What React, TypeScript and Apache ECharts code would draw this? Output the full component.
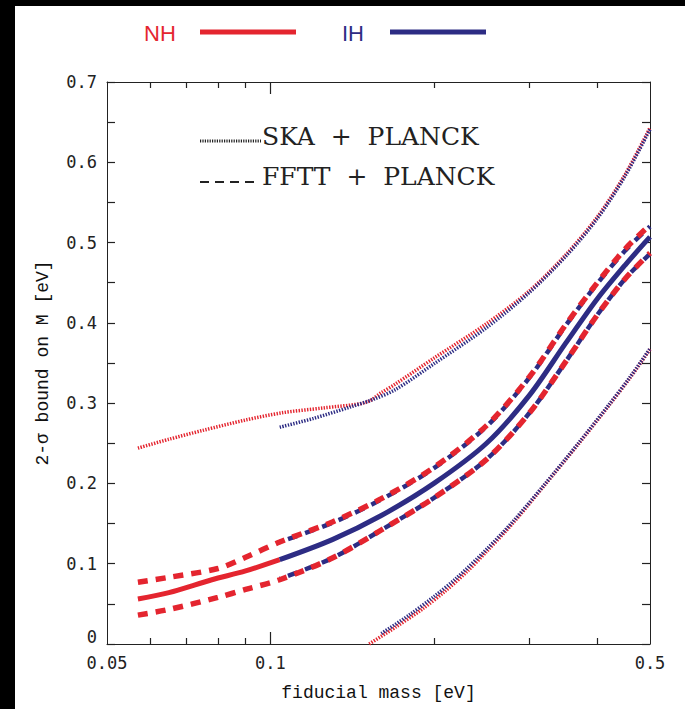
import React, { useEffect, useRef } from 'react';
import * as echarts from 'echarts';

const RED = '#e4252f';
const BLUE = '#2d2c84';

// x-axis ticks (fiducial mass, eV), log scale
const xLabelValues = [0.05, 0.1, 0.5];
const xLabelTexts = ['0.05', '0.1', '0.5'];
const xMajorTicks = [0.1];
const xMinorTicks = [0.06, 0.07, 0.08, 0.09, 0.2, 0.3, 0.4];

// SKA + PLANCK (dotted) upper bounds
const skaUpperNHx = [0.057, 0.065, 0.075, 0.09, 0.105, 0.125, 0.15, 0.16, 0.17, 0.2, 0.25, 0.3, 0.35, 0.4, 0.45, 0.5];
const skaUpperNHy = [0.244, 0.255, 0.266, 0.279, 0.288, 0.294, 0.301, 0.313, 0.324, 0.356, 0.399, 0.44, 0.485, 0.532, 0.585, 0.643];
const skaUpperIHx = [0.104, 0.12, 0.14, 0.155, 0.17, 0.2, 0.25, 0.3, 0.35, 0.4, 0.45, 0.5];
const skaUpperIHy = [0.27, 0.281, 0.295, 0.305, 0.317, 0.349, 0.394, 0.438, 0.483, 0.53, 0.583, 0.641];

// SKA + PLANCK (dotted) lower bounds
const skaLowerNHx = [0.152, 0.17, 0.19, 0.21, 0.23, 0.25, 0.28, 0.32, 0.37, 0.42, 0.46, 0.5];
const skaLowerNHy = [0.0, 0.021, 0.043, 0.066, 0.09, 0.115, 0.151, 0.198, 0.25, 0.297, 0.332, 0.367];
const skaLowerIHx = [0.16, 0.18, 0.2, 0.22, 0.25, 0.28, 0.32, 0.37, 0.42, 0.46, 0.5];
const skaLowerIHy = [0.013, 0.036, 0.059, 0.082, 0.118, 0.153, 0.199, 0.251, 0.298, 0.333, 0.368];

// FFTT + PLANCK central (solid) values
const centerNHx = [0.057, 0.065, 0.078, 0.09, 0.104];
const centerNHy = [0.056, 0.064, 0.08, 0.091, 0.105];
const centerIHx = [0.104, 0.13, 0.16, 0.2, 0.25, 0.3, 0.35, 0.4, 0.45, 0.5];
const centerIHy = [0.105, 0.13, 0.16, 0.2, 0.25, 0.31, 0.375, 0.43, 0.472, 0.507];

// FFTT + PLANCK (dashed) upper / lower bounds
const ffttNHx = [0.057, 0.065, 0.08, 0.09, 0.104, 0.13, 0.16, 0.2, 0.25, 0.3, 0.35, 0.4, 0.45, 0.5];
const ffttUpperNHy = [0.077, 0.083, 0.094, 0.108, 0.127, 0.152, 0.181, 0.22, 0.272, 0.333, 0.398, 0.45, 0.492, 0.522];
const ffttLowerNHy = [0.036, 0.043, 0.058, 0.068, 0.08, 0.107, 0.142, 0.182, 0.23, 0.288, 0.352, 0.41, 0.455, 0.487];
const ffttIHx = [0.104, 0.13, 0.16, 0.2, 0.25, 0.3, 0.35, 0.4, 0.45, 0.5];
const ffttUpperIHy = [0.127, 0.151, 0.18, 0.219, 0.271, 0.332, 0.397, 0.449, 0.49, 0.52];
const ffttLowerIHy = [0.081, 0.107, 0.142, 0.182, 0.23, 0.288, 0.352, 0.41, 0.455, 0.486];

const pairs = (xs: number[], ys: number[]) => xs.map((x, i) => [x, ys[i]]);

const dotted = (name: string, xs: number[], ys: number[], color: string) => ({
  name,
  type: 'line',
  data: pairs(xs, ys),
  smooth: 0.3,
  showSymbol: false,
  symbol: 'none',
  lineStyle: { color, width: 3.5, type: [1.4, 1.4] },
});

const dashed = (name: string, xs: number[], ys: number[], color: string, width: number, offset: number) => ({
  name,
  type: 'line',
  data: pairs(xs, ys),
  smooth: 0.3,
  showSymbol: false,
  symbol: 'none',
  lineStyle: { color, width, type: [10, 8], dashOffset: offset },
});

const solid = (name: string, xs: number[], ys: number[], color: string) => ({
  name,
  type: 'line',
  data: pairs(xs, ys),
  smooth: 0.3,
  showSymbol: false,
  symbol: 'none',
  lineStyle: { color, width: 5 },
});

const tickFont = 'DejaVu Sans Mono';
const titleFont = 'Liberation Mono';

const logAxis = (position: 'top' | 'bottom', ticks: number[], len: number, main: boolean) => ({
  type: 'log',
  logBase: 10,
  min: 0.05,
  max: 0.5,
  position,
  gridIndex: 0,
  axisLine: { show: main, lineStyle: { color: '#222', width: 1 } },
  axisTick: { show: true, inside: true, length: len, customValues: ticks, lineStyle: { color: '#222', width: 1.2 } },
  minorTick: { show: false },
  splitLine: { show: false },
  axisLabel: main && position === 'bottom'
    ? {
        show: true,
        customValues: xLabelValues,
        formatter: (v: number) => {
          let best = 0;
          xLabelValues.forEach((lv, i) => { if (Math.abs(lv - v) < Math.abs(xLabelValues[best] - v)) best = i; });
          return xLabelTexts[best];
        },
        fontFamily: tickFont,
        fontSize: 17,
        color: '#222',
        margin: 10,
      }
    : { show: false },
  name: main && position === 'bottom' ? 'fiducial mass [eV]' : '',
  nameLocation: 'middle',
  nameGap: 40,
  nameTextStyle: { fontFamily: titleFont, fontSize: 18, color: '#111' },
});

const valAxis = (position: 'left' | 'right') => ({
  type: 'value',
  min: 0,
  max: 0.7,
  interval: 0.1,
  position,
  axisLine: { show: true, lineStyle: { color: '#222', width: 1 } },
  axisTick: { show: true, inside: true, length: 8, lineStyle: { color: '#222', width: 1.2 } },
  minorTick: { show: true, splitNumber: 2, length: 8, lineStyle: { color: '#222', width: 1.2 } },
  splitLine: { show: false },
  minorSplitLine: { show: false },
  axisLabel: position === 'left'
    ? {
        show: true,
        fontFamily: tickFont,
        fontSize: 17,
        color: '#222',
        margin: 10,
        formatter: (v: number) => (v === 0 ? '{z|0}' : v.toFixed(1)),
        rich: { z: { fontFamily: tickFont, fontSize: 17, color: '#222', padding: [0, 0, 14, 0] } },
      }
    : { show: false },
  name: position === 'left' ? '2-σ bound on M [eV]' : '',
  nameLocation: 'middle',
  nameRotate: 90,
  nameGap: 55,
  nameTextStyle: { fontFamily: titleFont, fontSize: 18, color: '#111' },
});

const NB = '\u00a0';

export default function App() {
  const ref = useRef<HTMLDivElement>(null);
  useEffect(() => {
    if (!ref.current) return;
    const chart = echarts.init(ref.current, undefined, { renderer: 'svg' });
    chart.setOption({
      animation: false,
      backgroundColor: '#ffffff',
      grid: { left: 107, right: 35, top: 82, bottom: 65, containLabel: false, outerBoundsMode: 'none' },
      xAxis: [
        logAxis('bottom', xMajorTicks, 12, true),
        logAxis('bottom', xMinorTicks, 6, false),
        logAxis('top', xMajorTicks, 12, true),
        logAxis('top', xMinorTicks, 6, false),
      ],
      yAxis: [valAxis('left'), valAxis('right')],
      series: [
        dotted('NH SKA upper', skaUpperNHx, skaUpperNHy, RED),
        dotted('IH SKA upper', skaUpperIHx, skaUpperIHy, BLUE),
        dotted('NH SKA lower', skaLowerNHx, skaLowerNHy, RED),
        dotted('IH SKA lower', skaLowerIHx, skaLowerIHy, BLUE),
        dashed('IH FFTT upper', ffttIHx, ffttUpperIHy, BLUE, 4.5, 9),
        dashed('IH FFTT lower', ffttIHx, ffttLowerIHy, BLUE, 4.5, 9),
        dashed('NH FFTT upper', ffttNHx, ffttUpperNHy, RED, 5.5, 0),
        dashed('NH FFTT lower', ffttNHx, ffttLowerNHy, RED, 5.5, 0),
        solid('NH', centerNHx, centerNHy, RED),
        solid('IH', centerIHx, centerIHy, BLUE),
      ],
      graphic: [
        { type: 'rect', shape: { x: 0, y: 0, width: 685, height: 6 }, style: { fill: '#000' }, silent: true },
        { type: 'rect', shape: { x: 0, y: 0, width: 15, height: 709 }, style: { fill: '#000' }, silent: true },
        { type: 'text', x: 144, y: 33, style: { text: 'NH', fill: RED, font: '22px "Liberation Sans"', verticalAlign: 'middle', align: 'left' } },
        { type: 'line', shape: { x1: 200, y1: 32, x2: 296, y2: 32 }, style: { stroke: RED, lineWidth: 5 } },
        { type: 'text', x: 342, y: 33, style: { text: 'IH', fill: BLUE, font: '22px "Liberation Sans"', verticalAlign: 'middle', align: 'left' } },
        { type: 'line', shape: { x1: 390, y1: 32, x2: 486, y2: 32 }, style: { stroke: BLUE, lineWidth: 5 } },
        { type: 'line', shape: { x1: 200, y1: 141, x2: 261, y2: 141 }, style: { stroke: '#222', lineWidth: 3, lineDash: [1.2, 1.2] } },
        { type: 'text', x: 262, y: 136, style: { text: 'SKA' + NB + NB + '+' + NB + NB + 'PLANCK', fill: '#222', font: '25px "DejaVu Serif"', verticalAlign: 'middle', align: 'left' } },
        { type: 'line', shape: { x1: 200, y1: 182, x2: 260, y2: 182 }, style: { stroke: '#222', lineWidth: 2, lineDash: [9, 6] } },
        { type: 'text', x: 262, y: 176, style: { text: 'FFTT' + NB + NB + '+' + NB + NB + 'PLANCK', fill: '#222', font: '25px "DejaVu Serif"', verticalAlign: 'middle', align: 'left' } },
      ],
    });
    return () => chart.dispose();
  }, []);
  return (
    <div
      ref={ref}
      style={{ position: 'absolute', left: 0, top: 0, width: 685, height: 709, background: '#fff' }}
    />
  );
}
